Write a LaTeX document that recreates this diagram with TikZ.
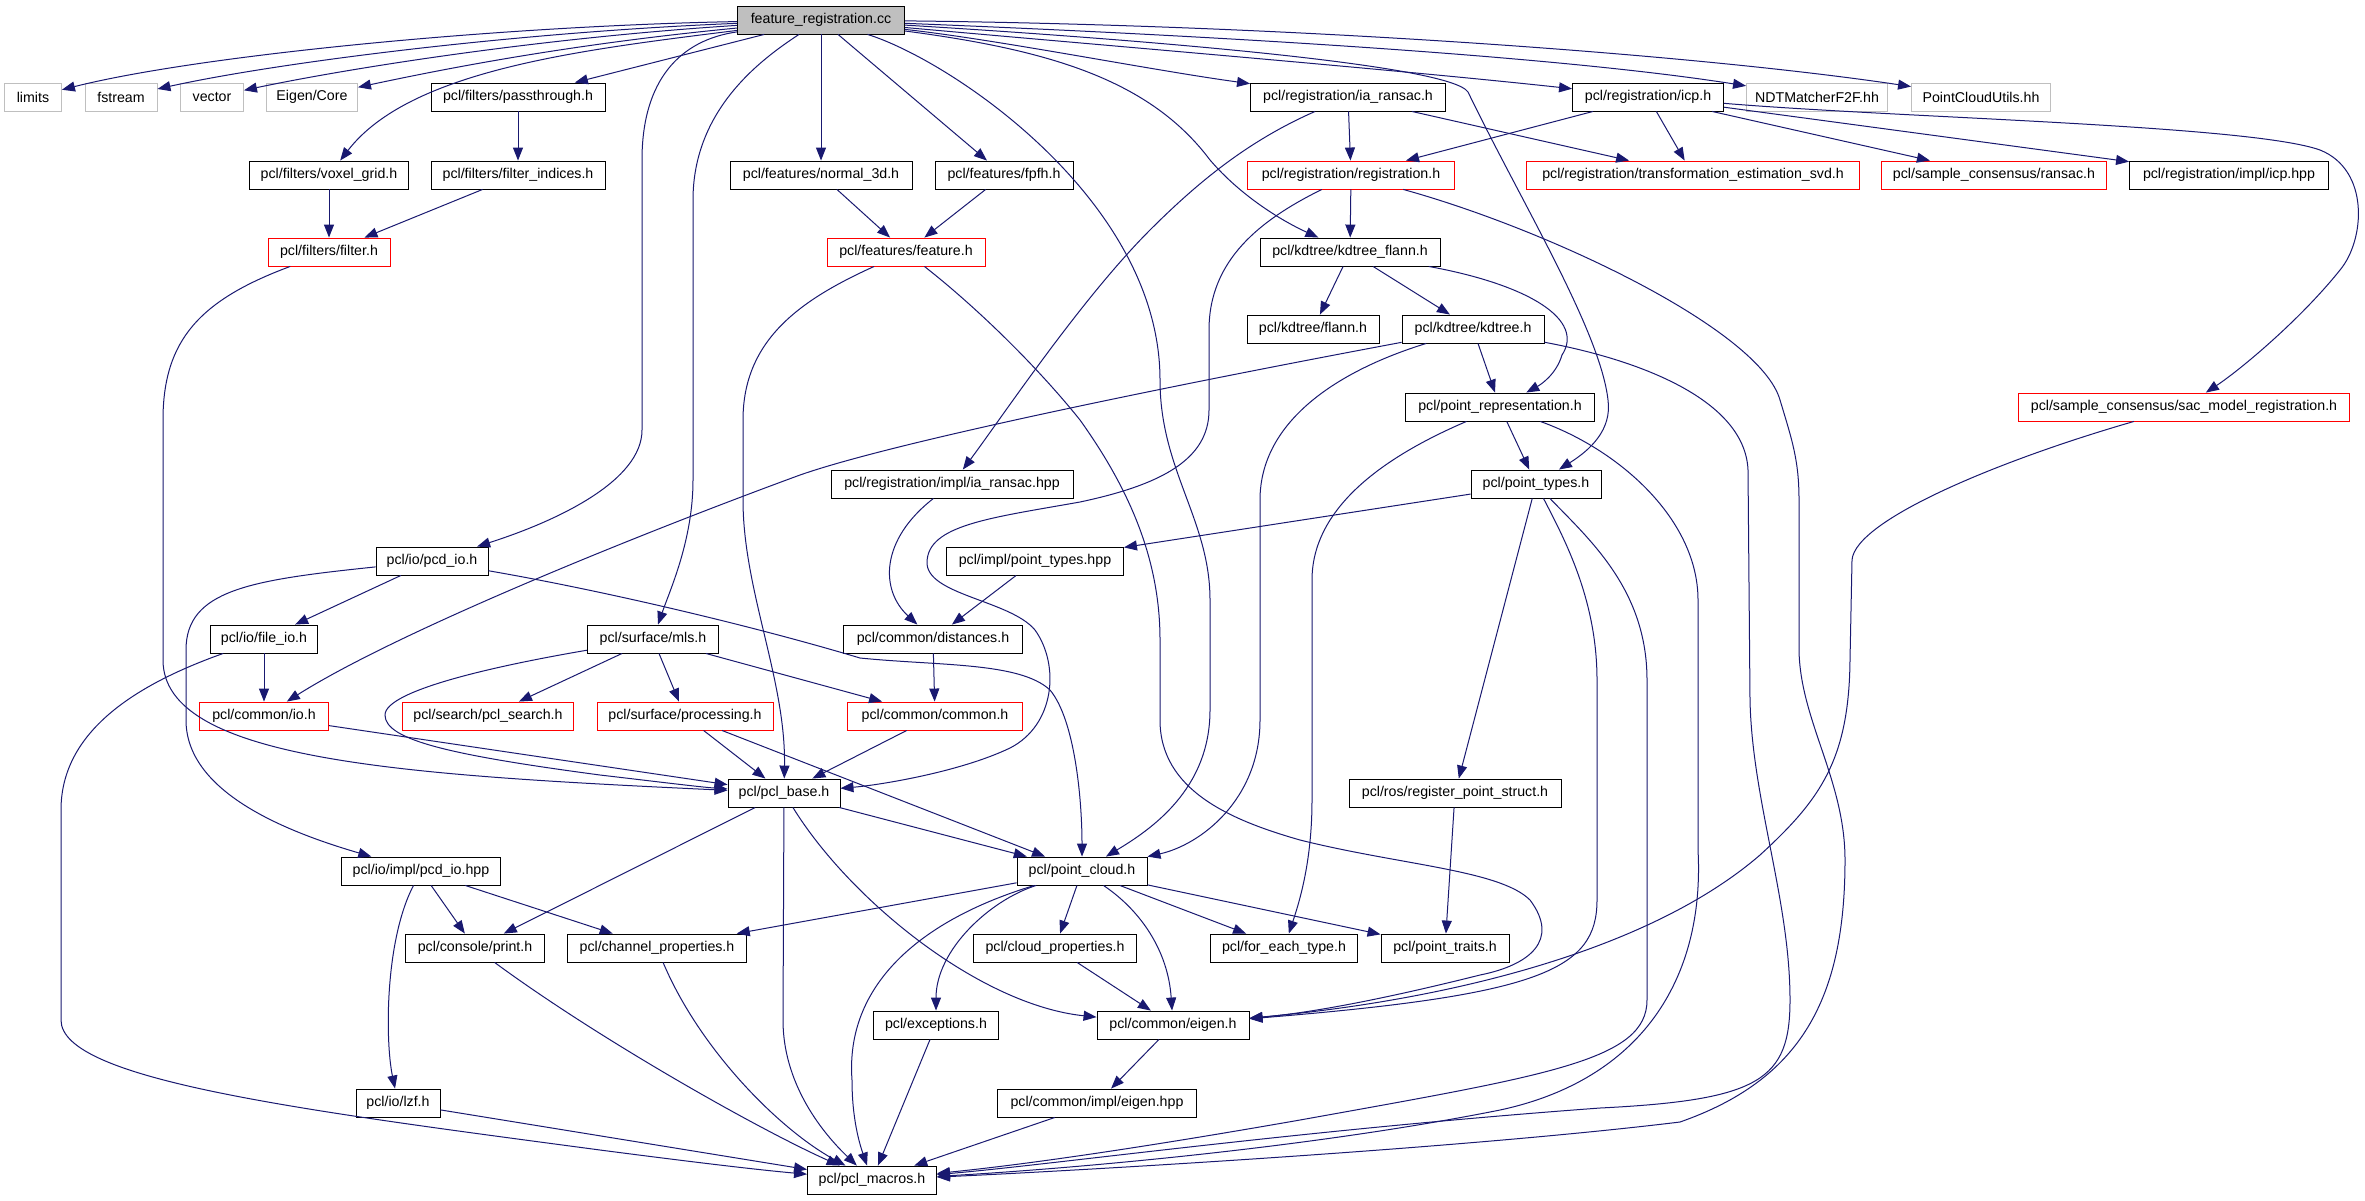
\documentclass[tikz,border=0pt]{standalone}
\usepackage{fontspec}
\setmainfont{Liberation Sans}
\usetikzlibrary{arrows.meta}
\definecolor{mblue}{HTML}{191970}
\definecolor{grey75}{HTML}{BFBFBF}
\begin{document}
\begin{tikzpicture}[x=1pt,y=-1pt,
  nb/.style={draw=black, line width=0.9pt, minimum height=28pt, inner sep=0pt, text=black,
     font=\fontsize{14.2}{17}\selectfont},
  nr/.style={nb, draw=red},
  ng/.style={nb, draw=grey75},
  nfr/.style={nb, fill=grey75},
  edg/.style={draw=mblue, line width=1pt, -{Triangle[length=13pt,width=10pt]}, fill=none}]
\fill[white] (0,0) rectangle (2365,1200);
\useasboundingbox (0,0) rectangle (2365,1200);
% nodes
\node[nfr, minimum width=167pt] (FR) at (821,20) {feature\_registration.cc};
\node[ng, minimum width=57pt] (limits) at (33,97) {limits};
\node[ng, minimum width=72pt] (fstream) at (121,97) {fstream};
\node[ng, minimum width=63pt] (vector) at (212,97) {vector};
\node[ng, minimum width=91pt] (eigencore) at (312,97) {Eigen/Core};
\node[nb, minimum width=174pt] (passthrough) at (518,97) {pcl/filters/passthrough.h};
\node[nb, minimum width=195pt] (iaransac) at (1348,97) {pcl/registration/ia\_ransac.h};
\node[nb, minimum width=151pt] (icp) at (1648,97) {pcl/registration/icp.h};
\node[ng, minimum width=141pt] (ndt) at (1817,97) {NDTMatcherF2F.hh};
\node[ng, minimum width=139pt] (pcu) at (1981,97) {PointCloudUtils.hh};
\node[nb, minimum width=159pt] (voxel) at (329,175) {pcl/filters/voxel\_grid.h};
\node[nb, minimum width=174pt] (findices) at (518,175) {pcl/filters/filter\_indices.h};
\node[nb, minimum width=182pt] (normal) at (821,175) {pcl/features/normal\_3d.h};
\node[nb, minimum width=138pt] (fpfh) at (1004,175) {pcl/features/fpfh.h};
\node[nr, minimum width=207pt] (registration) at (1351,175) {pcl/registration/registration.h};
\node[nr, minimum width=333pt] (tsvd) at (1693,175) {pcl/registration/transformation\_estimation\_svd.h};
\node[nr, minimum width=225pt] (ransac) at (1994,175) {pcl/sample\_consensus/ransac.h};
\node[nb, minimum width=199pt] (icphpp) at (2229,175) {pcl/registration/impl/icp.hpp};
\node[nr, minimum width=122pt] (filter) at (329,252) {pcl/filters/filter.h};
\node[nr, minimum width=158pt] (feature) at (906,252) {pcl/features/feature.h};
\node[nb, minimum width=180pt] (kdflann) at (1350,252) {pcl/kdtree/kdtree\_flann.h};
\node[nb, minimum width=132pt] (flann) at (1313,329) {pcl/kdtree/flann.h};
\node[nb, minimum width=142pt] (kdtree) at (1473,329) {pcl/kdtree/kdtree.h};
\node[nb, minimum width=189pt] (pointrep) at (1500,407) {pcl/point\_representation.h};
\node[nr, minimum width=331pt] (sacreg) at (2184,407) {pcl/sample\_consensus/sac\_model\_registration.h};
\node[nb, minimum width=242pt] (iahpp) at (952,484) {pcl/registration/impl/ia\_ransac.hpp};
\node[nb, minimum width=130pt] (ptypes) at (1536,484) {pcl/point\_types.h};
\node[nb, minimum width=112pt] (pcdio) at (432,561) {pcl/io/pcd\_io.h};
\node[nb, minimum width=177pt] (ptypeshpp) at (1035,561) {pcl/impl/point\_types.hpp};
\node[nb, minimum width=107pt] (fileio) at (264,639) {pcl/io/file\_io.h};
\node[nb, minimum width=131pt] (mls) at (653,639) {pcl/surface/mls.h};
\node[nb, minimum width=179pt] (distances) at (933,639) {pcl/common/distances.h};
\node[nr, minimum width=129pt] (commonio) at (264,716) {pcl/common/io.h};
\node[nr, minimum width=171pt] (pclsearch) at (488,716) {pcl/search/pcl\_search.h};
\node[nr, minimum width=176pt] (processing) at (685,716) {pcl/surface/processing.h};
\node[nr, minimum width=175pt] (common) at (935,716) {pcl/common/common.h};
\node[nb, minimum width=112pt] (pclbase) at (784,793) {pcl/pcl\_base.h};
\node[nb, minimum width=212pt] (regps) at (1455,793) {pcl/ros/register\_point\_struct.h};
\node[nb, minimum width=159pt] (pcdiohpp) at (421,871) {pcl/io/impl/pcd\_io.hpp};
\node[nb, minimum width=130pt] (pcloud) at (1082,871) {pcl/point\_cloud.h};
\node[nb, minimum width=139pt] (print) at (475,948) {pcl/console/print.h};
\node[nb, minimum width=179pt] (chprop) at (657,948) {pcl/channel\_properties.h};
\node[nb, minimum width=163pt] (clprop) at (1055,948) {pcl/cloud\_properties.h};
\node[nb, minimum width=147pt] (foreach) at (1284,948) {pcl/for\_each\_type.h};
\node[nb, minimum width=128pt] (ptraits) at (1445,948) {pcl/point\_traits.h};
\node[nb, minimum width=125pt] (exceptions) at (936,1025) {pcl/exceptions.h};
\node[nb, minimum width=152pt] (eigen) at (1173,1025) {pcl/common/eigen.h};
\node[nb, minimum width=84pt] (lzf) at (398,1103) {pcl/io/lzf.h};
\node[nb, minimum width=199pt] (eigenhpp) at (1097,1103) {pcl/common/impl/eigen.hpp};
\node[nb, minimum width=129pt] (macros) at (872,1180) {pcl/pcl\_macros.h};
% edges from feature_registration.cc
\draw[edg] (FR) .. controls (500,26) and (200,55) .. (limits);
\draw[edg] (FR) .. controls (520,32) and (280,62) .. (fstream);
\draw[edg] (FR) .. controls (540,38) and (350,68) .. (vector);
\draw[edg] (FR) .. controls (560,45) and (430,72) .. (eigencore);
\draw[edg] (FR) -- (passthrough);
\draw[edg] (FR) .. controls (580,50) and (410,70) .. (voxel);
\draw[edg] (FR) .. controls (680,40) and (642,80) .. (642,160) -- (642,430) .. controls (642,480) and (560,520) .. (pcdio);
\draw[edg] (FR) .. controls (760,60) and (693,110) .. (693,200) -- (693,480) .. controls (693,540) and (670,590) .. (mls);
\draw[edg] (FR) -- (normal);
\draw[edg] (FR) -- (fpfh);
\draw[edg] (FR) .. controls (950,60) and (1160,200) .. (1160,380) .. controls (1160,470) and (1210,520) .. (1210,600) -- (1210,710) .. controls (1210,790) and (1150,830) .. (pcloud);
\draw[edg] (FR) .. controls (1050,50) and (1150,80) .. (1210,160) .. controls (1240,195) and (1280,220) .. (kdflann);
\draw[edg] (FR) .. controls (1000,40) and (1150,70) .. (iaransac);
\draw[edg] (FR) .. controls (1100,45) and (1400,70) .. (icp);
\draw[edg] (FR) .. controls (1200,35) and (1550,55) .. (ndt);
\draw[edg] (FR) .. controls (1300,25) and (1700,55) .. (pcu);
\draw[edg] (FR) .. controls (1150,40) and (1450,65) .. (1468,92) .. controls (1520,200) and (1600,330) .. (1608,400) .. controls (1612,430) and (1590,450) .. (ptypes);
% filters
\draw[edg] (passthrough) -- (findices);
\draw[edg] (voxel) -- (filter);
\draw[edg] (findices) -- (filter);
\draw[edg] (filter) .. controls (200,300) and (163,340) .. (163,420) -- (163,660) .. controls (163,760) and (400,775) .. (pclbase);
% features
\draw[edg] (normal) -- (feature);
\draw[edg] (fpfh) -- (feature);
\draw[edg] (feature) .. controls (800,300) and (743,340) .. (743,420) -- (743,500) .. controls (743,590) and (786,680) .. (pclbase);
\draw[edg] (feature) .. controls (980,310) and (1040,370) .. (1080,420) .. controls (1130,490) and (1160,560) .. (1160,640) -- (1160,720) .. controls (1160,790) and (1230,820) .. (1300,840) .. controls (1400,865) and (1500,870) .. (1530,900) .. controls (1560,940) and (1530,965) .. (1480,975) .. controls (1400,995) and (1320,1012) .. (eigen);
% registration
\draw[edg] (iaransac) -- (registration);
\draw[edg] (iaransac) -- (tsvd);
\draw[edg] (iaransac) .. controls (1250,140) and (1200,180) .. (1150,230) .. controls (1080,300) and (1000,420) .. (iahpp);
\draw[edg] (icp) -- (registration);
\draw[edg] (icp) -- (tsvd);
\draw[edg] (icp) -- (ransac);
\draw[edg] (icp) -- (icphpp);
\draw[edg] (icp) .. controls (1900,118) and (2250,125) .. (2320,150) .. controls (2370,170) and (2365,240) .. (2340,270) .. controls (2300,320) and (2240,370) .. (sacreg);
\draw[edg] (registration) -- (kdflann);
\draw[edg] (registration) .. controls (1260,220) and (1209,260) .. (1209,330) -- (1209,410) .. controls (1209,460) and (1160,485) .. (1080,502) .. controls (990,518) and (928,525) .. (927,562) .. controls (926,595) and (1010,600) .. (1035,630) .. controls (1060,665) and (1055,725) .. (1010,748) .. controls (960,772) and (880,785) .. (pclbase);
\draw[edg] (registration) .. controls (1550,230) and (1760,330) .. (1780,400) .. controls (1792,440) and (1799,460) .. (1799,500) -- (1799,650) .. controls (1800,720) and (1845,780) .. (1845,860) .. controls (1845,1000) and (1800,1080) .. (1680,1122) .. controls (1450,1150) and (1050,1172) .. (macros);
% kdtree
\draw[edg] (kdflann) -- (flann);
\draw[edg] (kdflann) -- (kdtree);
\draw[edg] (kdflann) .. controls (1530,285) and (1585,320) .. (1562,355) .. controls (1556,375) and (1540,385) .. (pointrep);
\draw[edg] (kdtree) -- (pointrep);
\draw[edg] (kdtree) .. controls (1200,380) and (900,440) .. (800,475) .. controls (650,530) and (400,630) .. (commonio);
\draw[edg] (kdtree) .. controls (1340,370) and (1260,420) .. (1260,500) -- (1260,720) .. controls (1260,800) and (1200,845) .. (pcloud);
\draw[edg] (kdtree) .. controls (1640,360) and (1745,400) .. (1748,470) -- (1750,700) .. controls (1752,800) and (1790,900) .. (1790,1000) .. controls (1790,1080) and (1760,1100) .. (1600,1108) .. controls (1300,1130) and (1050,1165) .. (macros);
% point representation / types
\draw[edg] (pointrep) -- (ptypes);
\draw[edg] (pointrep) .. controls (1400,450) and (1312,500) .. (1312,580) -- (1312,800) .. controls (1312,860) and (1300,900) .. (foreach);
\draw[edg] (pointrep) .. controls (1620,450) and (1698,520) .. (1698,600) -- (1698,850) .. controls (1705,980) and (1640,1080) .. (1500,1110) .. controls (1300,1150) and (1050,1170) .. (macros);
\draw[edg] (ptypes) -- (ptypeshpp);
\draw[edg] (ptypes) -- (regps);
\draw[edg] (ptypes) .. controls (1565,540) and (1597,600) .. (1597,680) -- (1597,900) .. controls (1597,970) and (1540,995) .. (eigen);
\draw[edg] (ptypes) .. controls (1590,540) and (1647,590) .. (1647,680) -- (1647,1000) .. controls (1647,1060) and (1550,1075) .. (1300,1120) .. controls (1100,1155) and (1000,1167) .. (macros);
\draw[edg] (sacreg) .. controls (2000,460) and (1855,520) .. (1852,560) -- (1850,660) .. controls (1849,760) and (1820,800) .. (1760,855) .. controls (1650,950) and (1450,1000) .. (eigen);
\draw[edg] (regps) -- (ptraits);
% point cloud
\draw[edg] (pcloud) -- (chprop);
\draw[edg] (pcloud) .. controls (920,920) and (845,985) .. (852,1080) .. controls (852,1120) and (860,1145) .. (macros);
\draw[edg] (pcloud) .. controls (990,900) and (936,950) .. (exceptions);
\draw[edg] (pcloud) -- (clprop);
\draw[edg] (pcloud) .. controls (1140,910) and (1168,950) .. (eigen);
\draw[edg] (pcloud) -- (foreach);
\draw[edg] (pcloud) -- (ptraits);
% pcl_base
\draw[edg] (pclbase) -- (pcloud);
\draw[edg] (pclbase) -- (print);
\draw[edg] (pclbase) -- (783,1020) .. controls (783,1090) and (830,1140) .. (macros);
\draw[edg] (pclbase) .. controls (850,900) and (980,1005) .. (eigen);
% surface / common
\draw[edg] (processing) -- (pclbase);
\draw[edg] (processing) -- (pcloud);
\draw[edg] (common) -- (pclbase);
\draw[edg] (distances) -- (common);
\draw[edg] (iahpp) .. controls (880,540) and (880,590) .. (distances);
\draw[edg] (ptypeshpp) -- (distances);
\draw[edg] (mls) -- (pclsearch);
\draw[edg] (mls) -- (processing);
\draw[edg] (mls) -- (common);
\draw[edg] (mls) .. controls (500,665) and (385,690) .. (385,715) .. controls (385,740) and (450,755) .. (600,775) .. controls (660,782) and (700,787) .. (pclbase);
\draw[edg] (commonio) -- (pclbase);
% io
\draw[edg] (fileio) -- (commonio);
\draw[edg] (fileio) .. controls (120,690) and (61,740) .. (61,810) -- (61,1020) .. controls (61,1080) and (300,1110) .. (600,1150) .. controls (700,1163) and (760,1170) .. (macros);
\draw[edg] (pcdio) -- (fileio);
\draw[edg] (pcdio) .. controls (600,590) and (750,625) .. (860,658) .. controls (940,666) and (1020,662) .. (1050,690) .. controls (1075,720) and (1082,800) .. (pcloud);
\draw[edg] (pcdio) .. controls (250,580) and (186,590) .. (186,650) -- (186,720) .. controls (186,790) and (280,830) .. (pcdiohpp);
\draw[edg] (pcdiohpp) -- (print);
\draw[edg] (pcdiohpp) -- (chprop);
\draw[edg] (pcdiohpp) .. controls (385,940) and (385,1040) .. (lzf);
% to macros
\draw[edg] (print) .. controls (600,1040) and (760,1130) .. (macros);
\draw[edg] (chprop) .. controls (700,1050) and (780,1130) .. (macros);
\draw[edg] (exceptions) -- (macros);
\draw[edg] (clprop) -- (eigen);
\draw[edg] (eigen) -- (eigenhpp);
\draw[edg] (eigenhpp) -- (macros);
\draw[edg] (lzf) -- (macros);
\end{tikzpicture}
\end{document}
